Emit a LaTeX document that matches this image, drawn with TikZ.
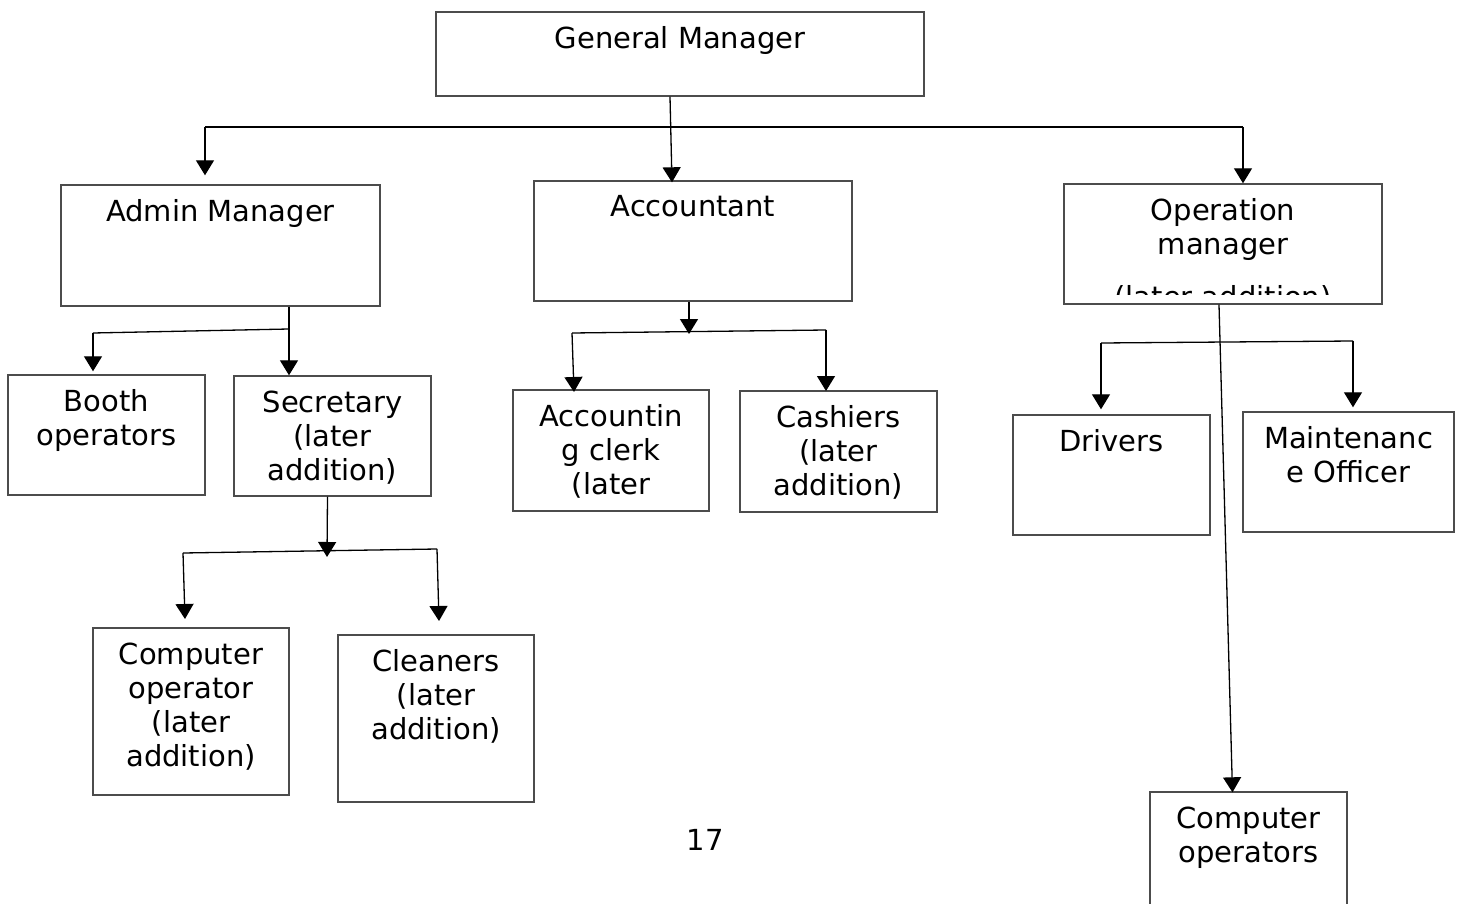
\documentclass[tikz,border=0pt]{standalone}
\usepackage{fontspec}
\setmainfont{DejaVu Sans}
\usetikzlibrary{arrows.meta,calc,fit}
\begin{document}
\begin{tikzpicture}[x=0.5pt,y=-0.5pt,
  box/.style={draw=black!70, line width=0.7pt, rectangle, inner sep=0pt},
  lbl/.style={anchor=north, align=center, inner sep=0pt, font=\fontsize{14.5}{17}\selectfont},
  conn/.style={line width=0.65pt, draw=black},
  arr/.style={conn, -{Triangle[width=9pt,length=7.5pt]}}]
\useasboundingbox (0,0) rectangle (1462,904);

% boxes
\node[box, fit={(436,12) (924,96)}] (gm) {};
\node[box, fit={(61,185) (380,306)}] (adm) {};
\node[box, fit={(534,181) (852,301)}] (acc) {};
\node[box, fit={(1064,184) (1382,304)}] (ops) {};
\node[box, fit={(8,375) (205,495)}] (booth) {};
\node[box, fit={(234,376) (431,496)}] (sec) {};
\node[box, fit={(93,628) (289,795)}] (cop) {};
\node[box, fit={(338,635) (534,802)}] (cln) {};
\node[box, fit={(513,390) (709,511)}] (acl) {};
\node[box, fit={(740,391) (937,512)}] (cash) {};
\node[box, fit={(1013,415) (1210,535)}] (drv) {};
\node[box, fit={(1243,412) (1454,532)}] (mnt) {};
\node[box, fit={(1150,792) (1347,912)}] (cops) {};

% labels
\node[lbl] (gmt) at ($(gm.north)+(0,15)$) {General Manager};
\node[lbl] (admt) at ($(adm.north)+(0,15)$) {Admin Manager};
\node[lbl] (acct) at ($(acc.north)+(0,15)$) {Accountant};
\node[lbl] (opst) at ($(ops.north)+(0,15)$) {Operation\\manager};
\begin{scope}
  \clip (1064,184) rectangle (1382,294);
  \node[lbl, anchor=base] (opsx) at (1223,307) {(later addition)};
\end{scope}
\node[lbl] (bootht) at ($(booth.north)+(0,15)$) {Booth\\operators};
\node[lbl] (sect) at ($(sec.north)+(0,15)$) {Secretary\\(later\\addition)};
\node[lbl] (copt) at ($(cop.north)+(0,15)$) {Computer\\operator\\(later\\addition)};
\node[lbl] (clnt) at ($(cln.north)+(0,15)$) {Cleaners\\(later\\addition)};
\node[lbl] (aclt) at ($(acl.north)+(0,15)$) {Accountin\\g clerk\\(later};
\node[lbl] (casht) at ($(cash.north)+(0,15)$) {Cashiers\\(later\\addition)};
\node[lbl] (drvt) at ($(drv.north)+(0,15)$) {Drivers};
\node[lbl] (mntt) at ($(mnt.north)+(0,15)$) {Maintenanc\\e Officer};
\node[lbl] (copst) at ($(cops.north)+(0,15)$) {Computer\\operators};
\node[lbl, anchor=center] (pg) at (705,840) {17};

% top level
\coordinate (t1) at (205,127);
\coordinate (t2) at (1243,127);
\draw[conn] (t1) -- (t2);
\draw[arr] (t1) -- ($(adm.north -| t1)+(0,-9)$);
\draw[arr] (t2) -- (ops.north -| t2);
\draw[arr] ($(gm.south)+(-10,0)$) -- ($(acc.north)+(-21,2)$);

% admin group
\coordinate (a1) at (93,333);
\coordinate (a2) at (289,329);
\draw[conn] (a1) -- (a2);
\draw[arr] (adm.south -| a2) -- (sec.north -| a2);
\draw[arr] (a1) -- ($(booth.north -| a1)+(0,-3)$);

% secretary group
\coordinate (s1) at (183,553);
\coordinate (s2) at (437,549);
\draw[conn] (s1) -- (s2);
\draw[arr] ($(sec.south)+(-5,0)$) -- (327,557);
\draw[arr] (s1) -- (185,619);
\draw[arr] (s2) -- (439,621);

% accountant group
\coordinate (c1) at (572,333);
\coordinate (c2) at (826,330);
\draw[conn] (c1) -- (c2);
\draw[arr] ($(acc.south)+(-4,0)$) -- (689,334);
\draw[arr] (c1) -- (574,392);
\draw[arr] (c2) -- (826,391);

% operation group
\coordinate (o1) at (1101,343);
\coordinate (o2) at (1353,341);
\draw[conn] (o1) -- (o2);
\draw[arr] (o1) -- ($(drv.north -| o1)+(0,-5)$);
\draw[arr] (o2) -- ($(mnt.north -| o2)+(0,-4)$);
\draw[arr] ($(ops.south)+(-4,0)$) -- ($(cops.north)+(-16,1)$);
\end{tikzpicture}
\end{document}
